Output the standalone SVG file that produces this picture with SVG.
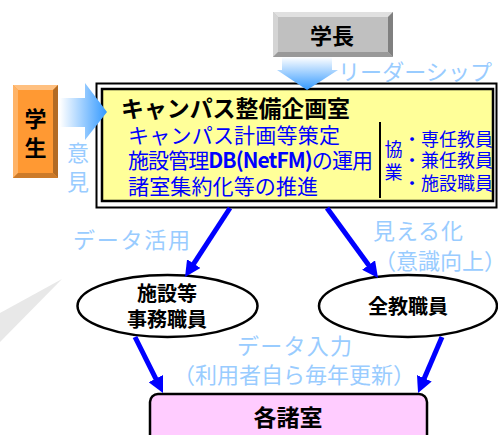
<svg xmlns="http://www.w3.org/2000/svg" width="498" height="435" viewBox="0 0 498 435">
<style>
text{font-family:"Noto Sans CJK JP","Noto Sans",sans-serif;}
.b{font-weight:bold;fill:#000;}
.lb{fill:#99ccff;font-size:22px;}
.bl{fill:#0000ff;font-size:21px;}
.sm{fill:#0000ff;font-size:18px;}
.conn{stroke:#0000ff;stroke-width:5;fill:none;marker-end:url(#ah);}
.ell{fill:#fff;stroke:#000;stroke-width:2.5;}
</style>
<defs>
<marker id="ah" viewBox="0 0 16 16" markerWidth="16" markerHeight="16" refX="8" refY="8" orient="auto" markerUnits="userSpaceOnUse">
<path d="M0,0 L16,8 L0,16 z" fill="#0000ff"/>
</marker>
<linearGradient id="gv" x1="0" y1="0" x2="0" y2="1">
<stop offset="0" stop-color="#ffffff"/>
<stop offset="1" stop-color="#3399ff"/>
</linearGradient>
<linearGradient id="gh" x1="0" y1="0" x2="1" y2="0">
<stop offset="0" stop-color="#ffffff"/>
<stop offset="1" stop-color="#3399ff"/>
</linearGradient>
</defs>

<polygon points="0,313 62,279 0,342" fill="#e8e8e8"/>

<g id="president">
<rect x="273" y="12" width="120" height="45" fill="#c0c0c0"/>
<polygon points="273,12 393,12 388,17 278,17" fill="#e0e0e0"/>
<polygon points="273,12 278,17 278,52 273,57" fill="#d4d4d4"/>
<polygon points="393,12 393,57 388,52 388,17" fill="#808080"/>
<polygon points="273,57 393,57 388,52 278,52" fill="#999999"/>
<text x="332" y="43.5" class="b" font-size="22" text-anchor="middle">学長</text>
</g>

<g id="student">
<rect x="13" y="85" width="45" height="93" fill="#ff9933"/>
<polygon points="13,85 58,85 53,90 18,90" fill="#ffc080"/>
<polygon points="13,85 18,90 18,173 13,178" fill="#ffb366"/>
<polygon points="58,85 58,178 53,173 53,90" fill="#b36b24"/>
<polygon points="13,178 58,178 53,173 18,173" fill="#cc7a29"/>
<text x="35.5" y="127" class="b" font-size="22" text-anchor="middle">学</text>
<text x="35.5" y="156" class="b" font-size="22" text-anchor="middle">生</text>
</g>

<g id="office">
<rect x="96.5" y="83.5" width="400" height="124" fill="#fff" stroke="#000" stroke-width="2"/>
<rect x="102" y="89" width="391" height="112" fill="#ffff99" stroke="#000" stroke-width="2.5"/>
<text x="121" y="116.5" class="b" font-size="23" textLength="229" lengthAdjust="spacingAndGlyphs">キャンパス整備企画室</text>
<text x="128" y="143" class="bl" textLength="212">キャンパス計画等策定</text>
<text x="128" y="168" class="bl" textLength="245">施設管理<tspan font-weight="bold">DB(NetFM)</tspan>の運用</text>
<text x="128" y="194" class="bl" textLength="190">諸室集約化等の推進</text>
<line x1="380" y1="122" x2="380" y2="198" stroke="#000" stroke-width="2"/>
<text x="393.5" y="155.5" class="sm" text-anchor="middle">協</text>
<text x="393.5" y="178.5" class="sm" text-anchor="middle">業</text>
<text x="403" y="145.5" class="sm">・専任教員</text>
<text x="403" y="166.5" class="sm">・兼任教員</text>
<text x="403" y="190" class="sm">・施設職員</text>
</g>

<g id="staff">
<ellipse cx="167.5" cy="306" rx="90" ry="31" class="ell"/>
<text x="167" y="301" class="b" font-size="20" text-anchor="middle">施設等</text>
<text x="167" y="327" class="b" font-size="20" text-anchor="middle">事務職員</text>
</g>

<g id="faculty">
<ellipse cx="408" cy="306" rx="89" ry="31" class="ell"/>
<text x="408" y="313.5" class="b" font-size="20" text-anchor="middle">全教職員</text>
</g>

<g id="rooms">
<rect x="150" y="394" width="277" height="60" rx="8" ry="8" fill="#ffccff" stroke="#000" stroke-width="2.5"/>
<text x="288" y="426" class="b" font-size="23" text-anchor="middle">各諸室</text>
</g>

<g id="connectors">
<polygon points="282,57 332,57 332,70 338,70 307,90 277,70 282,70" fill="url(#gv)"/>
<polygon points="60,98 85,98 85,83 107,112 85,140 85,127 60,127" fill="url(#gh)"/>
<line x1="230" y1="208" x2="189.4" y2="270.3" class="conn"/>
<line x1="327" y1="208" x2="373.3" y2="271.5" class="conn"/>
<line x1="135" y1="337" x2="159.4" y2="385.8" class="conn"/>
<line x1="442" y1="337" x2="421.2" y2="385.6" class="conn"/>
</g>

<g id="labels">
<text x="338" y="80" class="lb" font-size="21" textLength="154">リーダーシップ</text>
<text x="78" y="161" class="lb" text-anchor="middle">意</text>
<text x="78" y="190" class="lb" text-anchor="middle">見</text>
<text x="73" y="248" class="lb" textLength="117">データ活用</text>
<text x="373" y="238.5" class="lb" textLength="90">見える化</text>
<text x="374" y="268.5" class="lb">（意識向上）</text>
<text x="237" y="353.5" class="lb" textLength="115">データ入力</text>
<text x="173" y="383" class="lb">（利用者自ら毎年更新）</text>
</g>
</svg>
